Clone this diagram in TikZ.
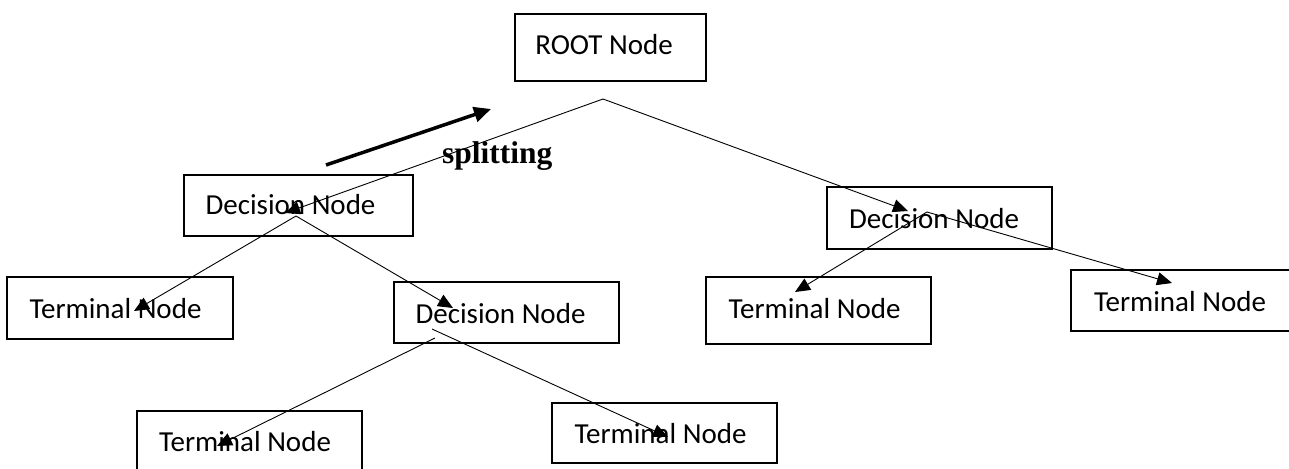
\documentclass[tikz,border=0pt]{standalone}
\usepackage{fontspec}
\setmainfont{Carlito}
\newfontfamily\splitfont{Liberation Serif}
\usetikzlibrary{arrows.meta}
\begin{document}
\begin{tikzpicture}[x=1pt,y=-1pt,
  box/.style={draw,line width=1.6pt,minimum width=225pt,minimum height=61pt,inner sep=0pt},
  lbl/.style={font=\fontsize{29}{32}\selectfont,inner sep=0pt},
  conn/.style={line width=0.9pt,-{Triangle[length=15pt,width=13pt]}},
  plain/.style={line width=0.9pt}
]
\useasboundingbox (0,0) rectangle (1289,468);
\clip (0,0) rectangle (1289,468);
% boxes
\node[box,minimum width=191pt,minimum height=67pt] (root) at (610.5,47.5) {};
\node[lbl] (rootT) at (604,45) {ROOT Node};
\node[box,minimum width=229pt] (d1) at (298.5,205.5) {};
\node[lbl] (d1T) at (290.5,205) {Decision Node};
\node[box,minimum width=226pt,minimum height=62pt] (t1) at (120,308) {};
\node[lbl] (t1T) at (115.5,309) {Terminal Node};
\node[box] (d2) at (506.5,312.5) {};
\node[lbl] (d2T) at (500.5,314) {Decision Node};
\node[box,minimum height=62pt] (d3) at (939.5,218) {};
\node[lbl] (d3T) at (934,219) {Decision Node};
\node[box,minimum height=67pt] (t2) at (818.5,310.5) {};
\node[lbl] (t2T) at (814.5,309) {Terminal Node};
\node[box] (t3) at (1183.5,300.5) {};
\node[lbl] (t3T) at (1180,302) {Terminal Node};
\node[box] (t4) at (249.5,441.5) {};
\node[lbl] (t4T) at (245,442) {Terminal Node};
\node[box,minimum height=60pt] (t5) at (664.5,433) {};
\node[lbl] (t5T) at (660.5,434) {Terminal Node};
% connector points
\coordinate (rootOut) at (603,99);
\coordinate (d1In) at (285,213);
\coordinate (d1Out) at (296,216);
\coordinate (t1In) at (134,311);
\coordinate (d2In) at (453,308);
\coordinate (d2OutL) at (435,338);
\coordinate (d2OutR) at (432,329);
\coordinate (t4In) at (217,446);
\coordinate (t5In) at (668,437);
\coordinate (d3In) at (908,211);
\coordinate (d3Out) at (927,212);
\coordinate (t2In) at (795,292);
\coordinate (t3In) at (1172,283);
\coordinate (splitA) at (326,165);
\coordinate (splitB) at (491,109);
% connectors
\draw[conn] (rootOut) -- (d1In);
\draw[conn] (rootOut) -- (d3In);
\draw[conn] (d1Out) -- (t1In);
\draw[conn] (d1Out) -- (d2In);
\draw[conn] (d2OutL) -- (t4In);
\draw[conn] (d2OutR) -- (t5In);
\draw[conn] (d3Out) -- (t2In);
\draw[conn] (d3Out) -- (t3In);
% splitting arrow
\draw[line width=3.5pt,-{Triangle[length=17pt,width=15pt]}] (splitA) -- (splitB);
\node[anchor=base west,inner sep=0pt,font=\splitfont\bfseries\fontsize{31.5}{34}\selectfont] (splitT) at (442,163) {splitting};
\end{tikzpicture}
\end{document}
